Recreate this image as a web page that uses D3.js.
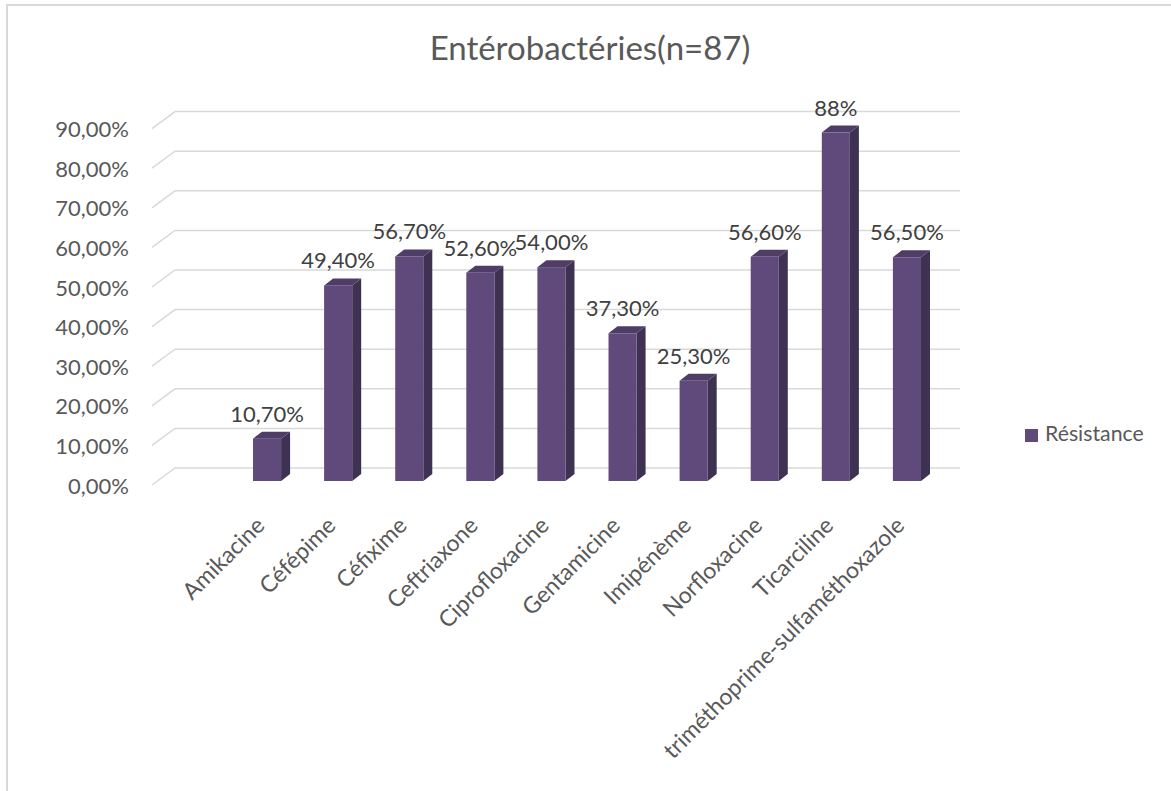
<!DOCTYPE html>
<html>
<head>
<meta charset="utf-8">
<script src="https://cdn.jsdelivr.net/npm/d3@7"></script>
<style>
  html, body { margin: 0; padding: 0; background: #ffffff; }
  svg { display: block; }
  text { font-family: Lato, "Open Sans", sans-serif; }
</style>
</head>
<body>
<svg id="chart" width="1171" height="791"></svg>
<script>
// Resistance rates of Enterobacteriaceae by antibiotic
const title = "Entérobactéries(n=87)";
const seriesName = "Résistance";
const categories = [
  "Amikacine", "Céfépime", "Céfixime", "Ceftriaxone", "Ciprofloxacine",
  "Gentamicine", "Imipénème", "Norfloxacine", "Ticarciline",
  "triméthoprime-sulfaméthoxazole"
];
const values = [10.7, 49.4, 56.7, 52.6, 54.0, 37.3, 25.3, 56.6, 88, 56.5];
const valueLabels = ["10,70%", "49,40%", "56,70%", "52,60%", "54,00%",
                     "37,30%", "25,30%", "56,60%", "88%", "56,50%"];
const yTicks = [0, 10, 20, 30, 40, 50, 60, 70, 80, 90];
const yTickLabels = ["0,00%", "10,00%", "20,00%", "30,00%", "40,00%",
                     "50,00%", "60,00%", "70,00%", "80,00%", "90,00%"];

const svg = d3.select("#chart");
const W = 1171, H = 791;

// chart frame
svg.append("rect").attr("width", W).attr("height", H).attr("fill", "#ffffff");
svg.append("line").attr("x1", 6).attr("x2", W).attr("y1", 5).attr("y2", 5)
  .attr("stroke", "#d9d9d9").attr("stroke-width", 2);
svg.append("line").attr("x1", 7).attr("x2", 7).attr("y1", 4).attr("y2", H)
  .attr("stroke", "#d9d9d9").attr("stroke-width", 2);

// scales
const y = d3.scaleLinear().domain([0, 90]).range([481, 124.6]);
const x = d3.scaleBand().domain(categories).range([231.5, 942.5]).padding(0);
const barW = x.bandwidth() * 0.395;
const depthX = 9, depthY = -7;          // bar extrusion
const wallDX = 23, wallDY = -17;         // floor depth to back wall
const floorX0 = 152, wallX1 = 960;

// gridlines: slanted side segment plus back-wall line
const grid = svg.append("g").attr("fill", "none")
  .attr("stroke", "#d9d9d9").attr("stroke-width", 1.5);
yTicks.forEach(t => {
  const yf = y(t) + 4;
  grid.append("path")
    .attr("d", `M${floorX0},${yf} L${floorX0 + wallDX},${yf + wallDY} L${wallX1},${yf + wallDY}`);
});

// y axis labels
svg.append("g").selectAll("text").data(yTicks).join("text")
  .attr("x", 129).attr("y", (d) => y(d) + 7)
  .attr("text-anchor", "end").attr("dominant-baseline", "middle")
  .attr("font-size", 22).attr("fill", "#595959")
  .text((d, i) => yTickLabels[i]);

// 3D bars
const frontColor = "#604a7b", sideColor = "#3f3152", topColor = "#4e3d66";
const bars = svg.append("g").selectAll("g").data(categories).join("g");
bars.each(function (c, i) {
  const g = d3.select(this);
  const cx = x(c) + x.bandwidth() / 2;
  const x0 = cx - barW / 2, x1 = cx + barW / 2;
  const yb = y(0), yt = y(values[i]);
  // side face
  g.append("path")
    .attr("d", `M${x1},${yb} L${x1 + depthX},${yb + depthY} L${x1 + depthX},${yt + depthY} L${x1},${yt} Z`)
    .attr("fill", sideColor);
  // top face
  g.append("path")
    .attr("d", `M${x0},${yt} L${x0 + depthX},${yt + depthY} L${x1 + depthX},${yt + depthY} L${x1},${yt} Z`)
    .attr("fill", topColor);
  // front face
  g.append("rect").attr("x", x0).attr("y", yt)
    .attr("width", barW).attr("height", yb - yt).attr("fill", frontColor);
  // value label
  g.append("text")
    .attr("x", cx).attr("y", yt + depthY - 10)
    .attr("text-anchor", "middle").attr("font-size", 22)
    .attr("fill", "#404040").text(valueLabels[i]);
});

// category labels, rotated
svg.append("g").selectAll("text").data(categories).join("text")
  .attr("transform", (d) => `translate(${x(d) + x.bandwidth() / 2 - 1},${527}) rotate(-45)`)
  .attr("text-anchor", "end").attr("font-size", 23)
  .attr("fill", "#595959").text((d) => d);

// title
svg.append("text").attr("x", 590).attr("y", 60)
  .attr("text-anchor", "middle").attr("font-size", 33)
  .attr("fill", "#595959").text(title);

// legend
const lg = svg.append("g").attr("transform", "translate(1025,429)");
lg.append("rect").attr("width", 13).attr("height", 13).attr("fill", frontColor);
lg.append("text").attr("x", 20).attr("y", 7).attr("dominant-baseline", "middle")
  .attr("font-size", 21.3).attr("fill", "#595959").text(seriesName);
</script>
</body>
</html>
